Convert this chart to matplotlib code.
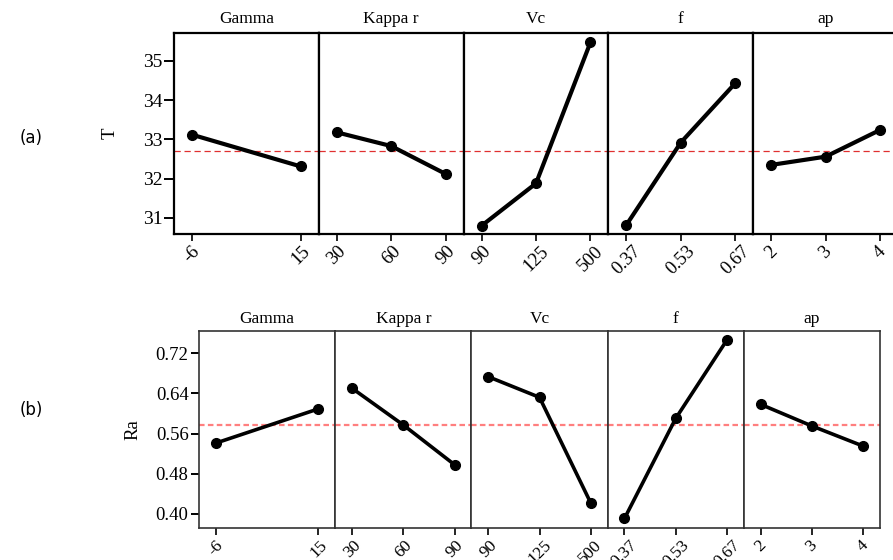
import numpy as np
import matplotlib
matplotlib.use("Agg")
import matplotlib.pyplot as plt

plt.rcParams["font.family"] = ["Liberation Serif", "DejaVu Serif"]

################# DATA #########################################
factors = ["Gamma", "Kappa r", "Vc", "f", "ap"]
levels = [["-6", "15"], ["30", "60", "90"], ["90", "125", "500"],
          ["0.37", "0.53", "0.67"], ["2", "3", "4"]]

T_means = [[33.12, 32.31], [33.18, 32.83, 32.12], [30.80, 31.88, 35.47],
           [30.82, 32.92, 34.43], [32.35, 32.56, 33.24]]
T_grand = 32.70
T_ticks = [31, 32, 33, 34, 35]

Ra_means = [[0.541, 0.609], [0.650, 0.577, 0.498], [0.673, 0.632, 0.422],
            [0.391, 0.590, 0.746], [0.618, 0.575, 0.535]]
Ra_grand = 0.576
Ra_ticks = [0.40, 0.48, 0.56, 0.64, 0.72]

################# PLOT #########################################
W, H = 893, 560
fig = plt.figure(figsize=(W / 100, H / 100), dpi=100)


def draw_row(box, means, grand, yticks, ylim, ylabel, yfmt, frame_lw, frame_col,
             line_lw, mean_style, label_x, title_pad, fs, xfs, ytick_len):
    left, right, top, bottom = box
    gs = fig.add_gridspec(1, 5, left=left / W, right=right / W,
                          top=1 - top / H, bottom=1 - bottom / H, wspace=0)
    for k in range(5):
        ax = fig.add_subplot(gs[0, k])
        n = len(levels[k])
        xs = np.linspace(0, 1, n)
        ax.axhline(grand, **mean_style, zorder=1)
        ax.plot(xs, means[k], color="black", lw=line_lw, marker="o",
                markersize=7, zorder=3)
        ax.set_xlim(-0.165, 1.165)
        ax.set_ylim(*ylim)
        ax.set_xticks(xs)
        ax.set_xticklabels(levels[k], rotation=45, ha="center", va="top",
                           fontsize=xfs)
        ax.tick_params(axis="x", direction="out", length=5, width=1.2, pad=1.5)
        ax.set_title(factors[k], fontsize=12.5, pad=title_pad)
        for s in ax.spines.values():
            s.set_linewidth(frame_lw)
            s.set_color(frame_col)
        if k == 0:
            ax.set_yticks(yticks)
            ax.set_yticklabels([yfmt.format(v) for v in yticks], fontsize=fs)
            ax.tick_params(axis="y", direction="out", length=ytick_len,
                           width=1.4, pad=1.5)
            ax.set_ylabel(ylabel, fontsize=13.5)
            ax.yaxis.set_label_coords(label_x, 0.5)
        else:
            ax.set_yticks([])


draw_row((174, 898, 33, 234), T_means, T_grand, T_ticks, (30.59, 35.71), "T",
         "{:d}", 1.6, "black", 3.0,
         dict(color="#e03030", lw=0.9, ls=(0, (5, 3))), -0.38, 7, 14, 13.5, 7)

draw_row((199, 880, 331, 528), Ra_means, Ra_grand, Ra_ticks, (0.372, 0.764), "Ra",
         "{:.2f}", 1.2, "#333333", 2.6,
         dict(color="#ff7f7f", lw=1.6, ls=(0, (2.5, 1.5))), -0.42, 6, 13.5, 12.5, 6)

fig.text(31 / W, 1 - 138 / H, "(a)", fontsize=12, family="DejaVu Sans",
         ha="center", va="center")
fig.text(31 / W, 1 - 410 / H, "(b)", fontsize=12, family="DejaVu Sans",
         ha="center", va="center")

plt.savefig("out.png", dpi=100)
